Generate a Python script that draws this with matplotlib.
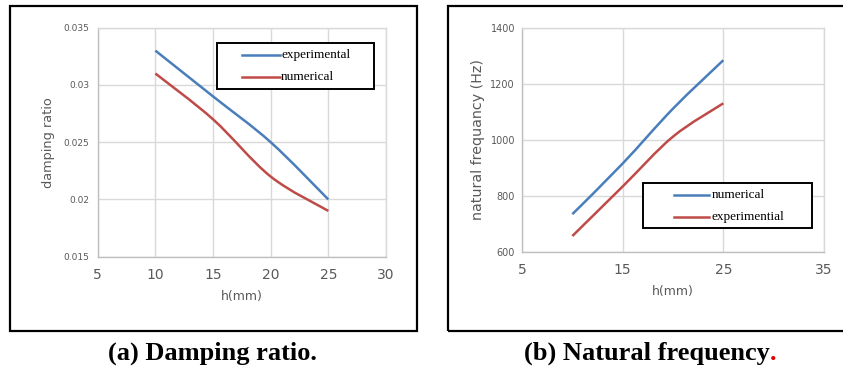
import numpy as np
import matplotlib
matplotlib.use("Agg")
import matplotlib.pyplot as plt
from matplotlib.path import Path
from matplotlib.patches import PathPatch, Rectangle
from matplotlib.lines import Line2D

# ---- data ----
h = [10, 15, 20, 25]
damp_experimental = [0.033, 0.029, 0.025, 0.020]
damp_numerical = [0.031, 0.027, 0.022, 0.019]
freq_numerical = [735, 916, 1112, 1285]
freq_experimential = [657, 834, 1012, 1131]

damp_xticks = [5, 10, 15, 20, 25, 30]
damp_yticks = [0.015, 0.02, 0.025, 0.03, 0.035]
damp_yticklabels = ["0.015", "0.02", "0.025", "0.03", "0.035"]
freq_xticks = [5, 15, 25, 35]
freq_yticks = [600, 800, 1000, 1200, 1400]

BLUE = "#4a7ebb"
RED = "#be4b48"
GRAY = "#595959"
GRID = "#d9d9d9"

W, H = 843, 372
fig = plt.figure(figsize=(W / 100, H / 100), dpi=100)


def px_axes(x0, y0, x1, y1):
    return fig.add_axes([x0 / W, 1 - y1 / H, (x1 - x0) / W, (y1 - y0) / H])


def smooth_path(ax, xs, ys, color):
    # Excel-like smoothed line: Catmull-Rom spline expressed as cubic Beziers
    pts = np.column_stack([xs, ys]).astype(float)
    tr = ax.transData
    disp = tr.transform(pts)
    ext = np.vstack([disp[0], disp, disp[-1]])
    verts = [disp[0]]
    codes = [Path.MOVETO]
    for i in range(1, len(ext) - 2):
        p0, p1, p2, p3 = ext[i - 1], ext[i], ext[i + 1], ext[i + 2]
        c1 = p1 + (p2 - p0) / 6.0
        c2 = p2 - (p3 - p1) / 6.0
        verts += [c1, c2, p2]
        codes += [Path.CURVE4] * 3
    verts = tr.inverted().transform(np.array(verts))
    patch = PathPatch(Path(verts, codes), facecolor="none", edgecolor=color,
                      lw=1.8, transform=ax.transData, capstyle="butt", zorder=3)
    ax.add_patch(patch)


def style(ax):
    ax.grid(True, color=GRID, lw=1.0)
    ax.set_axisbelow(True)
    for s in ax.spines.values():
        s.set_color(GRID)
        s.set_linewidth(1.0)
    ax.spines["left"].set_color("#bfbfbf")
    ax.spines["bottom"].set_color("#bfbfbf")
    ax.tick_params(length=0, colors=GRAY)


def manual_legend(box, rows, labels, colors, line_x, text_x):
    # box = (x0, y0, x1, y1) in figure pixels (top-left origin)
    x0, y0, x1, y1 = box
    fig.add_artist(Rectangle((x0 / W, 1 - y1 / H), (x1 - x0) / W, (y1 - y0) / H,
                             transform=fig.transFigure, fc="white", ec="black",
                             lw=1.4, zorder=5))
    for ry, lab, col in zip(rows, labels, colors):
        fig.add_artist(Line2D([line_x[0] / W, line_x[1] / W], [1 - ry / H, 1 - ry / H],
                              transform=fig.transFigure, color=col, lw=1.8, zorder=6))
        fig.text(text_x / W, 1 - ry / H, lab, ha="left", va="center",
                 family="Liberation Serif", size=9.5, zorder=6)


# ---- outer boxes ----
fig.add_artist(Rectangle((10 / W, 1 - 331 / H), (417 - 10) / W, (331 - 6) / H,
                         transform=fig.transFigure, fill=False, ec="black", lw=1.6))
fig.add_artist(Rectangle((448 / W, 1 - 331 / H), (850 - 448) / W, (331 - 6) / H,
                         transform=fig.transFigure, fill=False, ec="black", lw=1.6))

# ---- left: damping ratio ----
ax1 = px_axes(97.7, 27.7, 386, 256.7)
ax1.set_xlim(5, 30)
ax1.set_ylim(0.015, 0.035)
ax1.set_xticks(damp_xticks)
ax1.set_yticks(damp_yticks)
ax1.set_yticklabels(damp_yticklabels)
style(ax1)
for lab in ax1.get_yticklabels():
    lab.set_fontsize(6.5)
for lab in ax1.get_xticklabels():
    lab.set_fontsize(10)
ax1.tick_params(axis="x", pad=8)
ax1.tick_params(axis="y", pad=6)
ax1.set_xlabel("h(mm)", fontsize=9, color=GRAY, labelpad=6)
ax1.set_ylabel("damping ratio", fontsize=9.3, color=GRAY, labelpad=6)
fig.canvas.draw()
smooth_path(ax1, h, damp_experimental, BLUE)
smooth_path(ax1, h, damp_numerical, RED)
manual_legend((217, 43, 374, 89), [55, 77], ["experimental", "numerical"],
              [BLUE, RED], (242, 280), 281)

# ---- right: natural frequency ----
ax2 = px_axes(522, 28, 824, 252)
ax2.set_xlim(5, 35)
ax2.set_ylim(600, 1400)
ax2.set_xticks(freq_xticks)
ax2.set_yticks(freq_yticks)
style(ax2)
for lab in ax2.get_yticklabels():
    lab.set_fontsize(7)
for lab in ax2.get_xticklabels():
    lab.set_fontsize(10)
ax2.tick_params(axis="x", pad=8)
ax2.tick_params(axis="y", pad=5)
ax2.set_xlabel("h(mm)", fontsize=9, color=GRAY, labelpad=6)
ax2.set_ylabel("natural frequancy (Hz)", fontsize=10.3, color=GRAY, labelpad=4)
fig.canvas.draw()
smooth_path(ax2, h, freq_numerical, BLUE)
smooth_path(ax2, h, freq_experimential, RED)
manual_legend((643, 183, 812, 228), [194.5, 217], ["numerical", "experimential"],
              [BLUE, RED], (674, 709), 712)

# ---- captions ----
cap_font = {"family": "Liberation Serif", "weight": "bold", "size": 19}
fig.text(212 / W, 1 - 353 / H, "(a) Damping ratio.", ha="center", va="center", **cap_font)
tb = fig.text(650 / W, 1 - 353 / H, "(b) Natural frequency", ha="center", va="center", **cap_font)
dot = fig.text(0, 0, ".", **cap_font)
fig.canvas.draw()
dw = dot.get_window_extent().width
dot.remove()
tb.set_position(((650 - dw / 2) / W, 1 - 353 / H))
fig.canvas.draw()
bb = tb.get_window_extent()
fig.text(bb.x1 / W, 1 - 353 / H, ".", ha="left", va="center", color="#e00000", **cap_font)

fig.savefig("out.png", dpi=100)
